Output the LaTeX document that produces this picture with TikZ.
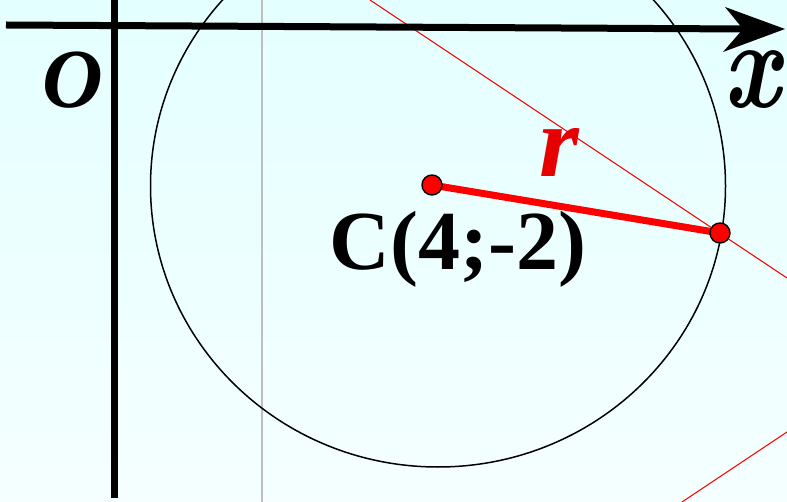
\documentclass[tikz,border=0pt]{standalone}
\usepackage{fontspec}
\setmainfont{Liberation Serif}
\newfontfamily\lmfam{Latin Modern Roman}
\definecolor{bgtop}{RGB}{228,255,255}
\definecolor{bgbot}{RGB}{245,255,255}
\definecolor{rlab}{RGB}{230,0,0}
\begin{document}
\begin{tikzpicture}[x=1pt,y=-1pt,
  axisline/.style={line width=7pt,black},
  dotpt/.style={circle,fill=red,draw=black,line width=1.4pt,minimum size=20pt,inner sep=0pt},
  thinred/.style={red,line width=1pt},
  biglabel/.style={inner sep=0pt,anchor=base,font=\bfseries\itshape}]
\useasboundingbox (0,0) rectangle (787,502);
\shade[top color=bgtop,bottom color=bgbot] (0,0) rectangle (787,502);
% gray vertical line
\draw[line width=1.5pt,color={rgb,255:red,190;green,190;blue,190}] (262,0) -- (262,502);
% circle
\draw[line width=1.5pt] (438,186) ellipse [x radius=287.5pt, y radius=281pt];
% thin red lines
\draw[thinred] (370,0) -- (787,278);
\draw[thinred] (682,502) -- (787,432);
% axes
\draw[axisline] (6,25) -- (745,29);
\fill (785,29) -- (725,7) -- (743,29) -- (723,52) -- cycle;
\draw[axisline] (114,0) -- (114,498);
% labels
\node[biglabel,font=\fontsize{84}{84}\selectfont\bfseries\itshape] (o) at (73,108) {O};
\node[biglabel,font=\fontsize{126}{126}\selectfont\lmfam\bfseries\itshape] (xl) at (752,108) {\scalebox{0.8}[1]{x}};
\node[biglabel,font=\fontsize{102}{102}\selectfont\bfseries\itshape,text=rlab] (rl) at (559,177) {r};
\node[inner sep=0pt,anchor=base,font=\fontsize{84}{84}\selectfont\bfseries] (cl) at (458,270) {C(4;-2)};
% radius
\coordinate (c) at (432,185);
\coordinate (p) at (720,233);
\draw[red,line width=7pt] (c) -- (p);
\node[dotpt] (cd) at (c) {};
\node[dotpt] (pd) at (p) {};
\end{tikzpicture}
\end{document}
